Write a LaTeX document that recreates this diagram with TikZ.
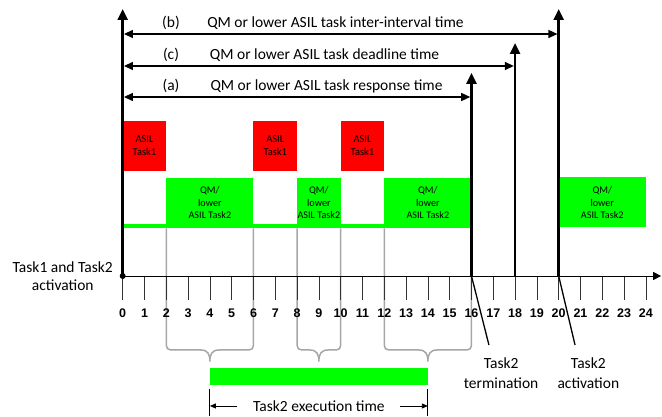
\documentclass[tikz,border=0pt]{standalone}
\usepackage{fontspec}
\setmainfont{Carlito}
\newfontfamily\tickfont{Liberation Sans}
\usetikzlibrary{arrows.meta,positioning}
\definecolor{asilred}{RGB}{255,0,0}
\definecolor{qmgreen}{RGB}{0,255,0}
\definecolor{bracegray}{RGB}{166,166,166}
\tikzset{
    asil-box/.style = {fill=asilred, rectangle, inner sep=0pt, minimum width=43.6pt, minimum height=50pt, align=center, font=\fontsize{10.5}{12.5}\selectfont},
    qm-box/.style = {fill=qmgreen, rectangle, inner sep=0pt, minimum height=50pt, align=center, font=\fontsize{10.2}{12.5}\selectfont},
    big-text/.style = {font=\fontsize{15.5}{19}\selectfont, inner sep=0pt},
    tick-label/.style = {font=\tickfont\bfseries\fontsize{12.5}{12.5}\selectfont, inner sep=0pt},
    thick-arrow/.style = {line width=2.5pt, -{Triangle[width=10pt,length=11pt]}},
    span-arrow/.style = {line width=1.3pt, {Triangle[width=8pt,length=9pt]}-{Triangle[width=8pt,length=9pt]}, shorten <=1.25pt, shorten >=1.25pt},
    brace-line/.style = {draw=bracegray, line width=1.5pt},
    tick-line/.style = {line width=0.7pt, black!80},
}

\begin{document}
\begin{tikzpicture}[x=21.8pt, y=-1pt]
\useasboundingbox (-5.6284,0) rectangle (24.739,417);

% task boxes
\fill[qmgreen] (0,224.5) rectangle (16,228.5);
\foreach \t [count=\i] in {1,7,11}
    \node[asil-box] (asil\i) at (\t,145.7) {ASIL\\Task1};
\node[qm-box, minimum width=87.2pt] (qm1) at (4,203) {QM/\\lower\\ASIL Task2};
\node[qm-box, minimum width=43.6pt] (qm2) at (9,203) {QM/\\lower\\ASIL Task2};
\node[qm-box, minimum width=87.2pt] (qm3) at (14,203) {QM/\\lower\\ASIL Task2};
\node[qm-box, minimum width=87.2pt] (qm4) at (22,202.5) {QM/\\lower\\ASIL Task2};

% braces
\foreach \l/\m/\r in {2/4/6, 8/9/10, 12/14/16}
    \draw[brace-line] (\l,228.5) -- (\l,340) .. controls (\l,350) .. (\l+0.45,350) -- (\m-0.42,350)
        .. controls (\m-0.1,350) and (\m,354) .. (\m,361.5)
        .. controls (\m,354) and (\m+0.1,350) .. (\m+0.42,350) -- (\r-0.45,350)
        .. controls (\r,350) .. (\r,340) -- (\r,228.5);

% time axis
\foreach \t in {0,...,24} {
    \draw[tick-line] (\t,276) -- (\t,300);
    \node[tick-label] (lbl\t) at (\t,313) {\t};
}
\coordinate (t0) at (0,276);
\coordinate (axis-end) at (24.70,276);
\draw[line width=0.9pt, -{Triangle[width=8pt,length=8pt]}] (t0) -- (axis-end);
\fill (t0) circle (3pt);

% activation and termination marks
\foreach \t/\y in {0/9, 16/73, 18/43, 20/9} {
    \coordinate (t\t) at (\t,276);
    \coordinate (top\t) at (\t,\y);
    \draw[thick-arrow] (t\t) -- (top\t);
}

% spans
\foreach \n/\t/\y/\by in {b/20/34/28, c/18/66/60, a/16/97/91} {
    \coordinate (\n-l) at (0,\y);
    \coordinate (\n-r) at (\t,\y);
    \draw[span-arrow] (\n-l) -- (\n-r);
    \node[big-text, anchor=base] (\n-tag) at (2.216,\by) {(\n)};
}
\node[big-text, anchor=base] (b-text) at (9.76,28) {QM or lower ASIL task inter-interval time};
\node[big-text, anchor=base] (c-text) at (9.26,60) {QM or lower ASIL task deadline time};
\node[big-text, anchor=base] (a-text) at (9.35,91) {QM or lower ASIL task response time};

% labels below
\node[big-text, align=center, font=\fontsize{15.5}{17.5}\selectfont] (act-text) at (-2.75,276) {Task1 and Task2\\activation};
\node[big-text, align=center, font=\fontsize{15.5}{19.5}\selectfont] (term-text) at (17.36,373) {Task2\\termination};
\node[big-text, align=center, font=\fontsize{15.5}{19.5}\selectfont] (next-text) at (21.36,373) {Task2\\activation};
\coordinate (term-tip) at (16.80,345);
\coordinate (next-tip) at (20.75,345);
\draw[line width=1.3pt] (t16) -- (term-tip);
\draw[line width=1.3pt] (t20) -- (next-tip);

% execution time
\fill[qmgreen] (4,368) rectangle (14,385.5);
\coordinate (exec-l) at (4,406);
\coordinate (exec-r) at (14,406);
\draw[line width=0.8pt] (4,389) -- (4,416);
\draw[line width=0.8pt] (14,389) -- (14,416);
\node[big-text, inner xsep=15.5pt] (exec-text) at (9,406) {Task2 execution time};
\draw[line width=0.8pt, -{Triangle[width=5pt,length=6pt]}] (exec-text.west) -- (exec-l);
\draw[line width=0.8pt, -{Triangle[width=5pt,length=6pt]}] (exec-text.east) -- (exec-r);
\end{tikzpicture}
\end{document}
